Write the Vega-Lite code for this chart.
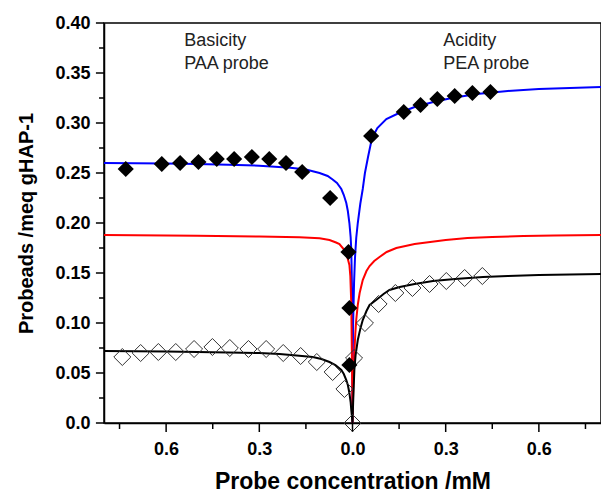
{
  "$schema": "https://vega.github.io/schema/vega-lite/v6.json",
  "autosize": "none",
  "width": 497,
  "height": 400,
  "padding": {"left": 104, "top": 23, "right": 0, "bottom": 69},
  "background": "white",
  "config": {
    "font": "Liberation Sans",
    "view": {"stroke": "#000000", "strokeWidth": 1.5},
    "axis": {
      "domainColor": "#000000", "domainWidth": 1.5,
      "labelFont": "Liberation Sans", "labelFontWeight": "bold", "labelFontSize": 18, "labelColor": "#000000",
      "titleFont": "Liberation Sans", "titleFontWeight": "bold", "titleColor": "#000000",
      "grid": false
    }
  },
  "datasets": {
    "curves": [
      {"series": "total", "x": -0.8, "y": 0.260},
      {"series": "total", "x": -0.7, "y": 0.2598},
      {"series": "total", "x": -0.6, "y": 0.2595},
      {"series": "total", "x": -0.5, "y": 0.259},
      {"series": "total", "x": -0.4, "y": 0.2583},
      {"series": "total", "x": -0.3, "y": 0.2573},
      {"series": "total", "x": -0.2, "y": 0.2553},
      {"series": "total", "x": -0.15, "y": 0.2535},
      {"series": "total", "x": -0.106, "y": 0.250},
      {"series": "total", "x": -0.08, "y": 0.247},
      {"series": "total", "x": -0.064, "y": 0.2435},
      {"series": "total", "x": -0.05, "y": 0.240},
      {"series": "total", "x": -0.036, "y": 0.234},
      {"series": "total", "x": -0.028, "y": 0.228},
      {"series": "total", "x": -0.020, "y": 0.220},
      {"series": "total", "x": -0.015, "y": 0.212},
      {"series": "total", "x": -0.010, "y": 0.200},
      {"series": "total", "x": -0.006, "y": 0.186},
      {"series": "total", "x": -0.004, "y": 0.174},
      {"series": "total", "x": -0.002, "y": 0.14},
      {"series": "total", "x": -0.001, "y": 0.10},
      {"series": "total", "x": 0, "y": 0},
      {"series": "total", "x": 0.001, "y": 0.07},
      {"series": "total", "x": 0.002, "y": 0.10},
      {"series": "total", "x": 0.005, "y": 0.14},
      {"series": "total", "x": 0.008, "y": 0.165},
      {"series": "total", "x": 0.012, "y": 0.185},
      {"series": "total", "x": 0.017, "y": 0.200},
      {"series": "total", "x": 0.025, "y": 0.219},
      {"series": "total", "x": 0.033, "y": 0.234},
      {"series": "total", "x": 0.04, "y": 0.250},
      {"series": "total", "x": 0.05, "y": 0.266},
      {"series": "total", "x": 0.06, "y": 0.281},
      {"series": "total", "x": 0.07, "y": 0.289},
      {"series": "total", "x": 0.08, "y": 0.295},
      {"series": "total", "x": 0.109, "y": 0.304},
      {"series": "total", "x": 0.15, "y": 0.310},
      {"series": "total", "x": 0.2, "y": 0.316},
      {"series": "total", "x": 0.26, "y": 0.321},
      {"series": "total", "x": 0.32, "y": 0.325},
      {"series": "total", "x": 0.4, "y": 0.329},
      {"series": "total", "x": 0.5, "y": 0.332},
      {"series": "total", "x": 0.6, "y": 0.334},
      {"series": "total", "x": 0.7, "y": 0.335},
      {"series": "total", "x": 0.8, "y": 0.336},

      {"series": "site 1", "x": -0.8, "y": 0.188},
      {"series": "site 1", "x": -0.5, "y": 0.1873},
      {"series": "site 1", "x": -0.3, "y": 0.1865},
      {"series": "site 1", "x": -0.171, "y": 0.1857},
      {"series": "site 1", "x": -0.106, "y": 0.1848},
      {"series": "site 1", "x": -0.074, "y": 0.183},
      {"series": "site 1", "x": -0.053, "y": 0.1805},
      {"series": "site 1", "x": -0.042, "y": 0.179},
      {"series": "site 1", "x": -0.026, "y": 0.173},
      {"series": "site 1", "x": -0.020, "y": 0.169},
      {"series": "site 1", "x": -0.015, "y": 0.164},
      {"series": "site 1", "x": -0.010, "y": 0.158},
      {"series": "site 1", "x": -0.007, "y": 0.147},
      {"series": "site 1", "x": -0.004, "y": 0.12},
      {"series": "site 1", "x": -0.002, "y": 0.07},
      {"series": "site 1", "x": -0.001, "y": 0.04},
      {"series": "site 1", "x": 0, "y": 0},
      {"series": "site 1", "x": 0.001, "y": 0.017},
      {"series": "site 1", "x": 0.003, "y": 0.044},
      {"series": "site 1", "x": 0.006, "y": 0.071},
      {"series": "site 1", "x": 0.009, "y": 0.089},
      {"series": "site 1", "x": 0.012, "y": 0.103},
      {"series": "site 1", "x": 0.017, "y": 0.118},
      {"series": "site 1", "x": 0.023, "y": 0.130},
      {"series": "site 1", "x": 0.033, "y": 0.143},
      {"series": "site 1", "x": 0.045, "y": 0.152},
      {"series": "site 1", "x": 0.055, "y": 0.157},
      {"series": "site 1", "x": 0.07, "y": 0.162},
      {"series": "site 1", "x": 0.087, "y": 0.166},
      {"series": "site 1", "x": 0.11, "y": 0.171},
      {"series": "site 1", "x": 0.141, "y": 0.175},
      {"series": "site 1", "x": 0.2, "y": 0.179},
      {"series": "site 1", "x": 0.25, "y": 0.181},
      {"series": "site 1", "x": 0.3, "y": 0.183},
      {"series": "site 1", "x": 0.37, "y": 0.185},
      {"series": "site 1", "x": 0.45, "y": 0.186},
      {"series": "site 1", "x": 0.55, "y": 0.187},
      {"series": "site 1", "x": 0.65, "y": 0.1875},
      {"series": "site 1", "x": 0.8, "y": 0.188},

      {"series": "site 2", "x": -0.8, "y": 0.072},
      {"series": "site 2", "x": -0.6, "y": 0.0715},
      {"series": "site 2", "x": -0.4, "y": 0.0705},
      {"series": "site 2", "x": -0.3, "y": 0.070},
      {"series": "site 2", "x": -0.235, "y": 0.069},
      {"series": "site 2", "x": -0.18, "y": 0.0675},
      {"series": "site 2", "x": -0.128, "y": 0.066},
      {"series": "site 2", "x": -0.1, "y": 0.064},
      {"series": "site 2", "x": -0.074, "y": 0.061},
      {"series": "site 2", "x": -0.055, "y": 0.058},
      {"series": "site 2", "x": -0.036, "y": 0.053},
      {"series": "site 2", "x": -0.028, "y": 0.049},
      {"series": "site 2", "x": -0.020, "y": 0.043},
      {"series": "site 2", "x": -0.015, "y": 0.038},
      {"series": "site 2", "x": -0.010, "y": 0.030},
      {"series": "site 2", "x": -0.006, "y": 0.021},
      {"series": "site 2", "x": -0.004, "y": 0.013},
      {"series": "site 2", "x": -0.002, "y": 0.007},
      {"series": "site 2", "x": 0, "y": 0},
      {"series": "site 2", "x": 0.002, "y": 0.020},
      {"series": "site 2", "x": 0.004, "y": 0.037},
      {"series": "site 2", "x": 0.006, "y": 0.053},
      {"series": "site 2", "x": 0.01, "y": 0.068},
      {"series": "site 2", "x": 0.017, "y": 0.083},
      {"series": "site 2", "x": 0.025, "y": 0.094},
      {"series": "site 2", "x": 0.033, "y": 0.103},
      {"series": "site 2", "x": 0.045, "y": 0.112},
      {"series": "site 2", "x": 0.055, "y": 0.118},
      {"series": "site 2", "x": 0.076, "y": 0.123},
      {"series": "site 2", "x": 0.1, "y": 0.129},
      {"series": "site 2", "x": 0.119, "y": 0.133},
      {"series": "site 2", "x": 0.152, "y": 0.136},
      {"series": "site 2", "x": 0.2, "y": 0.139},
      {"series": "site 2", "x": 0.259, "y": 0.142},
      {"series": "site 2", "x": 0.33, "y": 0.144},
      {"series": "site 2", "x": 0.42, "y": 0.146},
      {"series": "site 2", "x": 0.5, "y": 0.147},
      {"series": "site 2", "x": 0.6, "y": 0.148},
      {"series": "site 2", "x": 0.7, "y": 0.1485},
      {"series": "site 2", "x": 0.8, "y": 0.149}
    ],
    "points": [
      {"set": "total", "x": -0.730, "y": 0.254},
      {"set": "total", "x": -0.614, "y": 0.259},
      {"set": "total", "x": -0.555, "y": 0.260},
      {"set": "total", "x": -0.496, "y": 0.261},
      {"set": "total", "x": -0.437, "y": 0.264},
      {"set": "total", "x": -0.381, "y": 0.264},
      {"set": "total", "x": -0.324, "y": 0.266},
      {"set": "total", "x": -0.268, "y": 0.264},
      {"set": "total", "x": -0.214, "y": 0.260},
      {"set": "total", "x": -0.162, "y": 0.251},
      {"set": "total", "x": -0.072, "y": 0.225},
      {"set": "total", "x": -0.013, "y": 0.171},
      {"set": "total", "x": -0.010, "y": 0.115},
      {"set": "total", "x": -0.010, "y": 0.058},
      {"set": "total", "x": 0.060, "y": 0.287},
      {"set": "total", "x": 0.165, "y": 0.311},
      {"set": "total", "x": 0.219, "y": 0.318},
      {"set": "total", "x": 0.273, "y": 0.324},
      {"set": "total", "x": 0.329, "y": 0.327},
      {"set": "total", "x": 0.386, "y": 0.330},
      {"set": "total", "x": 0.444, "y": 0.331},

      {"set": "weak", "x": -0.741, "y": 0.066},
      {"set": "weak", "x": -0.682, "y": 0.070},
      {"set": "weak", "x": -0.625, "y": 0.071},
      {"set": "weak", "x": -0.569, "y": 0.071},
      {"set": "weak", "x": -0.510, "y": 0.074},
      {"set": "weak", "x": -0.451, "y": 0.076},
      {"set": "weak", "x": -0.395, "y": 0.075},
      {"set": "weak", "x": -0.335, "y": 0.074},
      {"set": "weak", "x": -0.278, "y": 0.074},
      {"set": "weak", "x": -0.223, "y": 0.070},
      {"set": "weak", "x": -0.167, "y": 0.067},
      {"set": "weak", "x": -0.115, "y": 0.061},
      {"set": "weak", "x": -0.064, "y": 0.051},
      {"set": "weak", "x": -0.026, "y": 0.034},
      {"set": "weak", "x": 0.0, "y": 0.0},
      {"set": "weak", "x": 0.005, "y": 0.065},
      {"set": "weak", "x": 0.040, "y": 0.100},
      {"set": "weak", "x": 0.084, "y": 0.119},
      {"set": "weak", "x": 0.138, "y": 0.130},
      {"set": "weak", "x": 0.193, "y": 0.135},
      {"set": "weak", "x": 0.248, "y": 0.139},
      {"set": "weak", "x": 0.302, "y": 0.142},
      {"set": "weak", "x": 0.361, "y": 0.145},
      {"set": "weak", "x": 0.418, "y": 0.147}
    ],
    "xticks": [
      {"v": -0.75, "kind": "minor"}, {"v": -0.6, "kind": "major"}, {"v": -0.45, "kind": "minor"},
      {"v": -0.3, "kind": "major"}, {"v": -0.15, "kind": "minor"}, {"v": 0, "kind": "major"},
      {"v": 0.15, "kind": "minor"}, {"v": 0.3, "kind": "major"}, {"v": 0.45, "kind": "minor"},
      {"v": 0.6, "kind": "major"}, {"v": 0.75, "kind": "minor"}
    ],
    "yticks": [
      {"v": 0, "kind": "major"}, {"v": 0.025, "kind": "minor"}, {"v": 0.05, "kind": "major"},
      {"v": 0.075, "kind": "minor"}, {"v": 0.1, "kind": "major"}, {"v": 0.125, "kind": "minor"},
      {"v": 0.15, "kind": "major"}, {"v": 0.175, "kind": "minor"}, {"v": 0.2, "kind": "major"},
      {"v": 0.225, "kind": "minor"}, {"v": 0.25, "kind": "major"}, {"v": 0.275, "kind": "minor"},
      {"v": 0.3, "kind": "major"}, {"v": 0.325, "kind": "minor"}, {"v": 0.35, "kind": "major"},
      {"v": 0.375, "kind": "minor"}, {"v": 0.4, "kind": "major"}
    ],
    "notes": [
      {"x": -0.542, "y": 0.391, "label": "Basicity\nPAA probe"},
      {"x": 0.292, "y": 0.391, "label": "Acidity\nPEA probe"}
    ]
  },
  "layer": [
    {
      "data": {"name": "curves"},
      "mark": {"type": "line", "strokeWidth": 2, "interpolate": "linear"},
      "encoding": {
        "x": {
          "field": "x", "type": "quantitative",
          "scale": {"domain": [-0.8, 0.8], "nice": false, "zero": false},
          "axis": {
            "title": "Probe concentration /mM",
            "titleFontSize": 23, "titlePadding": 12,
            "values": [-0.6, -0.3, 0, 0.3, 0.6],
            "labelExpr": "format(abs(datum.value), '.1f')",
            "ticks": false,
            "labelPadding": 17,
            "labelOverlap": false
          }
        },
        "y": {
          "field": "y", "type": "quantitative",
          "scale": {"domain": [0, 0.4], "nice": false},
          "axis": {
            "title": "Probeads /meq gHAP-1",
            "titleFontSize": 20, "titlePadding": 18,
            "values": [0, 0.05, 0.1, 0.15, 0.2, 0.25, 0.3, 0.35, 0.4],
            "labelExpr": "datum.value == 0 ? '0.0' : format(datum.value, '.2f')",
            "ticks": false,
            "labelPadding": 14,
            "labelOverlap": false
          }
        },
        "color": {
          "field": "series", "type": "nominal",
          "scale": {"domain": ["total", "site 1", "site 2"], "range": ["#0000FF", "#FF0000", "#000000"]},
          "legend": null
        },
        "detail": {"field": "series"}
      }
    },
    {
      "data": {"name": "xticks"},
      "transform": [{"filter": "datum.kind == 'major'"}],
      "mark": {"type": "rule", "color": "#000000", "strokeWidth": 1.5, "clip": false},
      "encoding": {
        "x": {"field": "v", "type": "quantitative"},
        "y": {"datum": 0, "type": "quantitative"},
        "y2": {"datum": -0.009}
      }
    },
    {
      "data": {"name": "xticks"},
      "transform": [{"filter": "datum.kind == 'minor'"}],
      "mark": {"type": "rule", "color": "#000000", "strokeWidth": 1.5, "clip": false},
      "encoding": {
        "x": {"field": "v", "type": "quantitative"},
        "y": {"datum": 0, "type": "quantitative"},
        "y2": {"datum": -0.006}
      }
    },
    {
      "data": {"name": "yticks"},
      "transform": [{"filter": "datum.kind == 'major'"}],
      "mark": {"type": "rule", "color": "#000000", "strokeWidth": 1.5, "clip": false},
      "encoding": {
        "y": {"field": "v", "type": "quantitative"},
        "x": {"datum": -0.8, "type": "quantitative"},
        "x2": {"datum": -0.826}
      }
    },
    {
      "data": {"name": "yticks"},
      "transform": [{"filter": "datum.kind == 'minor'"}],
      "mark": {"type": "rule", "color": "#000000", "strokeWidth": 1.5, "clip": false},
      "encoding": {
        "y": {"field": "v", "type": "quantitative"},
        "x": {"datum": -0.8, "type": "quantitative"},
        "x2": {"datum": -0.816}
      }
    },
    {
      "data": {"name": "points"},
      "transform": [{"filter": "datum.set == 'weak'"}],
      "mark": {"type": "point", "shape": "diamond", "filled": false, "size": 290, "stroke": "#333333", "strokeWidth": 1, "opacity": 1},
      "encoding": {
        "x": {"field": "x", "type": "quantitative"},
        "y": {"field": "y", "type": "quantitative"}
      }
    },
    {
      "data": {"name": "points"},
      "transform": [{"filter": "datum.set == 'total'"}],
      "mark": {"type": "point", "shape": "diamond", "filled": true, "size": 260, "color": "#000000", "opacity": 1},
      "encoding": {
        "x": {"field": "x", "type": "quantitative"},
        "y": {"field": "y", "type": "quantitative"}
      }
    },
    {
      "mark": {"type": "rule", "color": "#000000", "strokeWidth": 2},
      "encoding": {
        "x": {"datum": 0, "type": "quantitative"},
        "y": {"datum": 0, "type": "quantitative"},
        "y2": {"datum": 0.4}
      }
    },
    {
      "data": {"name": "notes"},
      "mark": {"type": "text", "align": "left", "baseline": "top", "fontSize": 18, "lineHeight": 23, "lineBreak": "\n", "color": "#222222", "font": "Liberation Sans"},
      "encoding": {
        "x": {"field": "x", "type": "quantitative"},
        "y": {"field": "y", "type": "quantitative"},
        "text": {"field": "label"}
      }
    }
  ]
}
